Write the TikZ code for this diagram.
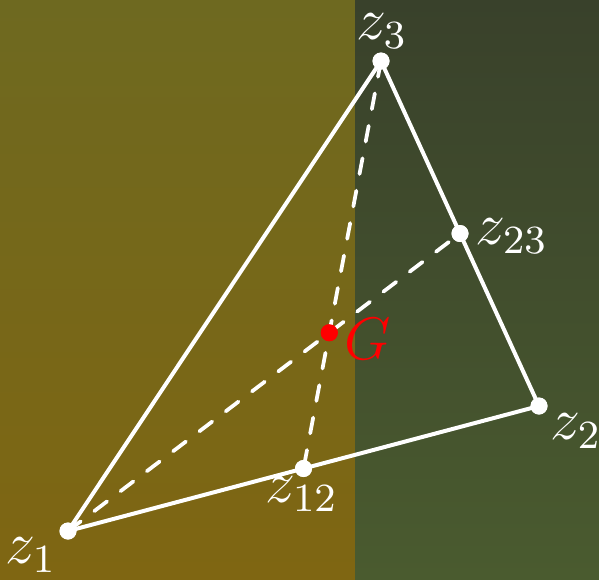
\documentclass[tikz,border=0pt]{standalone}
\definecolor{lefttop}{HTML}{6E6920}
\definecolor{leftbot}{HTML}{7F6612}
\definecolor{righttop}{HTML}{39412B}
\definecolor{rightbot}{HTML}{4A5B2F}
\tikzset{
  pt/.style={circle,fill=white,inner sep=0pt,minimum size=3.4pt},
  gpt/.style={circle,fill=red,inner sep=0pt,minimum size=3.4pt},
  edge/.style={white,line width=0.8pt},
  dashedge/.style={white,line width=0.75pt,line cap=round,dash pattern=on 3.2pt off 3.4pt},
  lbl/.style={white,inner sep=0pt,font=\large}
}
\begin{document}
\begin{tikzpicture}[x=0.2pt,y=-0.2pt]
\useasboundingbox (0,0) rectangle (599,579);
\shade[top color=lefttop,bottom color=leftbot] (0,0) rectangle (355,579);
\shade[top color=righttop,bottom color=rightbot] (355,0) rectangle (599,579);
\node[pt] (z1) at (68,531) {};
\node[pt] (z2) at (539,406) {};
\node[pt] (z3) at (381,61) {};
\node[pt] (z12) at (303.5,468.5) {};
\node[pt] (z23) at (460,233.5) {};
\node[gpt] (G) at (329.3,332.7) {};
\draw[dashedge] (z1.center) -- (z23.center);
\draw[dashedge] (z3.center) -- (z12.center);
\draw[edge] (z1.center) -- (z3.center) -- (z2.center) -- cycle;
\node[pt] at (z1) {};
\node[pt] at (z2) {};
\node[pt] at (z3) {};
\node[pt] at (z12) {};
\node[pt] at (z23) {};
\node[gpt] at (G) {};
\node[lbl] (l3) at (382,31) {$z_3$};
\node[lbl] (l2) at (576,431) {$z_2$};
\node[lbl] (l23) at (512,236) {$z_{23}$};
\node[lbl] (l12) at (302,494) {$z_{12}$};
\node[lbl] (l1) at (31,555) {$z_1$};
\node[lbl,text=red] (lG) at (368,339) {$G$};
\end{tikzpicture}
\end{document}
